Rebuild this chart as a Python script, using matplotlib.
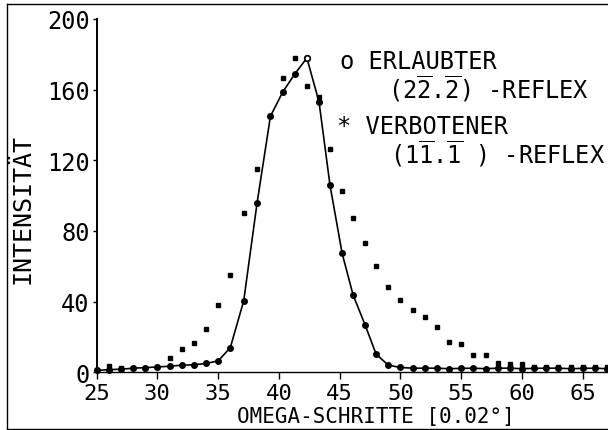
import matplotlib
matplotlib.use("Agg")
import matplotlib.pyplot as plt
from matplotlib.lines import Line2D
import numpy as np

# ---- data ----
steps = [25, 26, 27, 28, 29, 30, 31, 32, 33, 34, 35, 36, 37.1, 38.2, 39.3, 40.3,
         41.3, 42.3, 43.3, 44.2, 45.2, 46.1, 47.1, 48, 49, 50, 51, 52, 53, 54, 55,
         56, 57, 58, 59, 60, 61, 62, 63, 64, 65, 66, 67]
erlaubt = [1.0, 1.5, 1.7, 2.3, 2.6, 3.0, 3.4, 4.0, 4.2, 5.0, 6.4, 14.0, 40.4, 95.8,
           144.9, 158.5, 168.8, 177.9, 153.0, 106.0, 67.3, 43.8, 26.6, 10.2, 4.0,
           2.7, 2.3, 2.3, 2.3, 2.0, 2.2, 2.3, 2.0, 2.3, 2.3, 2.0, 2.2, 2.3, 2.3,
           2.0, 2.2, 2.3, 2.0]
verboten = [1.0, 3.6, 2.5, 2.5, 2.5, 3.0, 8.0, 13.4, 16.8, 24.4, 37.8, 55.1, 89.9,
            114.8, 145.0, 166.4, 177.8, 161.8, 156.0, 126.4, 102.7, 87.1, 73.1,
            59.9, 48.5, 40.8, 35.1, 31.0, 25.8, 17.2, 15.9, 9.6, 9.6, 5.5, 4.5,
            4.5, 3.0, 3.0, 3.0, 3.0, 3.0, 3.0, 3.0]
xticks = [25, 30, 35, 40, 45, 50, 55, 60, 65]
yticks = [0, 40, 80, 120, 160, 200]

FONT = "DejaVu Sans Mono"
plt.rcParams["font.family"] = [FONT, "DejaVu Sans"]
plt.rcParams["mathtext.fontset"] = "custom"
plt.rcParams["mathtext.rm"] = FONT
plt.rcParams["mathtext.it"] = FONT
plt.rcParams["mathtext.bf"] = FONT

fig = plt.figure(figsize=(6.08, 4.31), dpi=100)
ax = fig.add_axes([0.159, 0.134, 0.841, 0.8197])

ax.plot(steps, verboten, linestyle="none", marker="s", ms=2.8, color="black",
        clip_on=False, zorder=3)
ax.plot(steps, erlaubt, color="black", lw=1.2, marker="o", ms=4.0,
        clip_on=False, zorder=4)
ipk = int(np.argmax(erlaubt))
ax.plot([steps[ipk]], [erlaubt[ipk]], linestyle="none", marker="o", ms=4.0,
        mfc="white", mec="black", mew=1.2, zorder=5)

ax.set_xlim(25, 67.08)
ax.set_ylim(0, 200)
ax.set_xticks(xticks)
ax.set_yticks(yticks)
ax.tick_params(axis="x", direction="out", length=5, width=1.0, pad=3, labelsize=16)
ax.tick_params(axis="y", direction="out", length=3, width=1.0, pad=2, labelsize=17)
for s in ("top", "right"):
    ax.spines[s].set_visible(False)
ax.spines["left"].set_linewidth(1.4)
ax.spines["bottom"].set_linewidth(1.0)

ax.set_xlabel("OMEGA-SCHRITTE [0.02°]", fontsize=15)
ax.xaxis.set_label_coords(0.546, -0.095)
ax.set_ylabel("INTENSITÄT", fontsize=18)
ax.yaxis.set_label_coords(-0.122, 0.465)

# legend-like annotation
ax.text(45.0, 176, "o ERLAUBTER", fontsize=17, va="center", ha="left")
ax.text(49.0, 161.0, r"(2$\overline{\mathrm{2}}$.$\overline{\mathrm{2}}$) -REFLEX",
        fontsize=17, va="center", ha="left")
ax.text(44.8, 139.6, "* VERBOTENER", fontsize=17, va="center", ha="left")
ax.text(49.1, 124.3, r"(1$\overline{\mathrm{1}}$.$\overline{\mathrm{1}}$ ) -REFLEX",
        fontsize=17, va="center", ha="left")

# scanned page frame
fig.add_artist(Line2D([7 / 608, 7 / 608], [0, 1 - 5 / 431], transform=fig.transFigure,
                      color="black", lw=1.0))
fig.add_artist(Line2D([7 / 608, 1], [1 - 5 / 431, 1 - 5 / 431], transform=fig.transFigure,
                      color="black", lw=1.0))
fig.add_artist(Line2D([7 / 608, 1], [1 / 431, 1 / 431], transform=fig.transFigure,
                      color="black", lw=1.0))

fig.savefig("out.png", dpi=100)
